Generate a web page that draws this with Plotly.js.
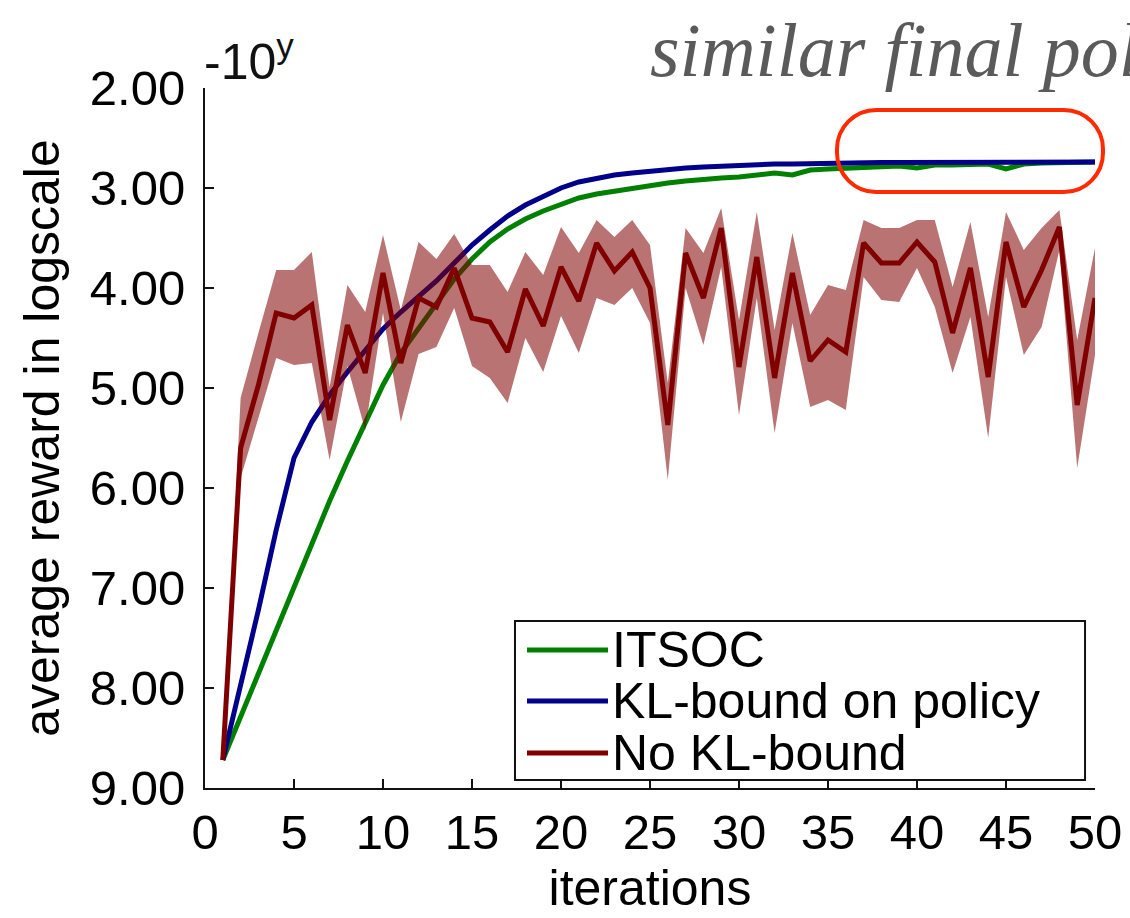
<!DOCTYPE html>
<html>
<head>
<meta charset="utf-8">
<script src="https://cdn.plot.ly/plotly-3.0.1.min.js"></script>
<style>
html,body{margin:0;padding:0;background:#ffffff;}
#chart{width:1130px;height:918px;}
</style>
</head>
<body>
<div id="chart"></div>
<script>
// ---------------- data ----------------
const iterations = [1,2,3,4,5,6,7,8,9,10,11,12,13,14,15,16,17,18,19,20,21,22,23,24,25,
  26,27,28,29,30,31,32,33,34,35,36,37,38,39,40,41,42,43,44,45,46,47,48,49,50];

const itsoc = [8.72,8.29,7.85,7.43,7.00,6.55,6.13,5.73,5.36,4.97,
  4.65,4.40,4.14,3.91,3.71,3.54,3.41,3.31,3.23,3.16,
  3.10,3.06,3.03,3.00,2.98,2.95,2.93,2.91,2.90,2.89,
  2.87,2.85,2.87,2.82,2.81,2.80,2.79,2.79,2.78,2.80,
  2.77,2.77,2.76,2.76,2.81,2.76,2.75,2.75,2.745,2.74];

const klPolicy = [8.72,7.99,7.22,6.42,5.70,5.34,5.07,4.84,4.62,4.41,
  4.24,4.09,3.93,3.75,3.57,3.42,3.28,3.17,3.08,3.00,
  2.94,2.90,2.87,2.85,2.83,2.81,2.80,2.79,2.78,2.77,
  2.77,2.76,2.76,2.755,2.75,2.75,2.75,2.745,2.745,2.745,
  2.745,2.74,2.74,2.74,2.74,2.74,2.74,2.74,2.74,2.74];

const noKlMean = [8.72,5.60,4.97,4.25,4.30,4.17,5.32,4.37,4.85,3.85,
  4.75,4.10,4.19,3.80,4.30,4.34,4.64,4.01,4.38,3.79,
  4.13,3.55,3.83,3.64,4.00,5.37,3.65,4.10,3.40,4.79,
  3.69,4.90,3.85,4.73,4.52,4.64,3.55,3.75,3.75,3.54,
  3.74,4.45,3.80,4.89,3.54,4.19,3.82,3.39,5.17,4.10];

const noKlUpper = [8.72,5.10,4.45,3.82,3.82,3.64,4.99,3.97,4.24,3.47,
  4.22,3.54,3.71,3.46,3.77,3.77,4.04,3.64,3.87,3.39,
  3.65,3.32,3.49,3.32,3.57,4.95,3.40,3.65,3.20,4.32,
  3.24,4.42,3.45,4.27,3.97,4.02,3.32,3.40,3.40,3.32,
  3.32,3.99,3.34,4.29,3.24,3.62,3.40,3.22,4.52,3.60];

const noKlLower = [8.72,5.90,5.30,4.70,4.77,4.75,5.72,4.78,5.42,4.25,
  5.34,4.66,4.59,4.20,4.78,4.90,5.15,4.50,4.84,4.28,
  4.65,4.10,4.17,4.00,4.35,5.92,4.00,4.57,3.79,5.27,
  4.10,5.45,4.35,5.19,5.12,5.22,3.89,4.12,4.14,3.80,
  4.19,4.85,4.29,5.50,3.89,4.67,4.39,3.62,5.80,4.67];

const xTickVals = [0,5,10,15,20,25,30,35,40,45,50];
const yTickVals = [2,3,4,5,6,7,8,9];
const yTickText = ['2.00','3.00','4.00','5.00','6.00','7.00','8.00','9.00'];
const seriesNames = ['ITSOC','KL-bound on policy','No KL-bound'];
const xTitle = 'iterations';
const yTitle = 'average reward in logscale';
const scaleLabel = '-10<sup>y</sup>';
const calloutText = 'similar final policies';

// ---------------- styling ----------------
const GREEN = '#008000';
const BLUE = '#00008b';
const RED = '#800000';
const BAND = 'rgba(128,0,0,0.55)';
const FONT = '"Liberation Sans", Arial, Helvetica, sans-serif';
const LW = 5;

const bandX = iterations.concat(iterations.slice().reverse());
const bandY = noKlUpper.concat(noKlLower.slice().reverse());

const traces = [
  {x: iterations, y: itsoc, type: 'scatter', mode: 'lines', name: seriesNames[0],
   line: {color: GREEN, width: LW}, showlegend: false},
  {x: iterations, y: klPolicy, type: 'scatter', mode: 'lines', name: seriesNames[1],
   line: {color: BLUE, width: LW}, showlegend: false},
  {x: bandX, y: bandY, type: 'scatter', mode: 'lines', fill: 'toself',
   fillcolor: BAND, line: {width: 0, color: 'rgba(0,0,0,0)'}, showlegend: false, hoverinfo: 'skip'},
  {x: iterations, y: noKlMean, type: 'scatter', mode: 'lines', name: seriesNames[2],
   line: {color: RED, width: LW}, showlegend: false}
];

// rounded callout rectangle (paper coords)
function roundedRect(x0, x1, y0, y1, rx, ry) {
  const k = 0.5523;
  return 'M ' + (x0 + rx) + ',' + y1 +
    ' L ' + (x1 - rx) + ',' + y1 +
    ' C ' + (x1 - rx + k * rx) + ',' + y1 + ' ' + x1 + ',' + (y1 - ry + k * ry) + ' ' + x1 + ',' + (y1 - ry) +
    ' L ' + x1 + ',' + (y0 + ry) +
    ' C ' + x1 + ',' + (y0 + ry - k * ry) + ' ' + (x1 - rx + k * rx) + ',' + y0 + ' ' + (x1 - rx) + ',' + y0 +
    ' L ' + (x0 + rx) + ',' + y0 +
    ' C ' + (x0 + rx - k * rx) + ',' + y0 + ' ' + x0 + ',' + (y0 + ry - k * ry) + ' ' + x0 + ',' + (y0 + ry) +
    ' L ' + x0 + ',' + (y1 - ry) +
    ' C ' + x0 + ',' + (y1 - ry + k * ry) + ' ' + (x0 + rx - k * rx) + ',' + y1 + ' ' + (x0 + rx) + ',' + y1 + ' Z';
}

// manual legend geometry (paper coords)
const legBox = {x0: 0.3483, x1: 0.9888, y0: 0.0114, y1: 0.2386};
const legLineX = [0.3618, 0.4528];
const legTextX = 0.4550;
const legRowY = [0.1971, 0.1243, 0.0500];
const legColors = [GREEN, BLUE, RED];

const shapes = [
  {type: 'path', xref: 'paper', yref: 'paper',
   path: roundedRect(0.7101, 1.0090, 0.8514, 0.9686, 0.0440, 0.0560),
   line: {color: '#ff2a00', width: 4}, fillcolor: 'rgba(0,0,0,0)'},
  {type: 'rect', xref: 'paper', yref: 'paper', x0: legBox.x0, x1: legBox.x1, y0: legBox.y0, y1: legBox.y1,
   line: {color: '#111111', width: 2}, fillcolor: '#ffffff', layer: 'above'}
];
const annotations = [
  {xref: 'paper', yref: 'paper', x: -0.003, y: 0.995, xanchor: 'left', yanchor: 'bottom',
   text: scaleLabel, showarrow: false, font: {family: FONT, size: 50, color: '#111111'}},
  {xref: 'paper', yref: 'paper', x: 0.498, y: 0.992, xanchor: 'left', yanchor: 'bottom',
   text: calloutText, showarrow: false,
   font: {family: '"Liberation Serif", "Times New Roman", serif', size: 76, color: '#5a5a5a', style: 'italic'}}
];
for (let i = 0; i < seriesNames.length; i++) {
  shapes.push({type: 'line', xref: 'paper', yref: 'paper', x0: legLineX[0], x1: legLineX[1],
    y0: legRowY[i], y1: legRowY[i], line: {color: legColors[i], width: LW}, layer: 'above'});
  annotations.push({xref: 'paper', yref: 'paper', x: legTextX, y: legRowY[i], xanchor: 'left', yanchor: 'middle',
    text: seriesNames[i], showarrow: false, font: {family: FONT, size: 50, color: '#000000'}});
}

const layout = {
  width: 1130, height: 918,
  margin: {l: 205, r: 35, t: 88, b: 130, pad: 0},
  paper_bgcolor: '#ffffff', plot_bgcolor: '#ffffff',
  font: {family: FONT, size: 49, color: '#000000'},
  showlegend: false,
  xaxis: {
    range: [0, 50], tickvals: xTickVals, ticks: 'inside', ticklen: 9, tickwidth: 2, tickcolor: '#111111',
    showline: true, linecolor: '#111111', linewidth: 2, showgrid: false, zeroline: false,
    tickfont: {family: FONT, size: 49, color: '#000000'},
    title: {text: xTitle, font: {family: FONT, size: 50, color: '#000000'}, standoff: 12}
  },
  yaxis: {
    range: [9, 2], tickvals: yTickVals, ticktext: yTickText, ticks: 'inside', ticklen: 9, tickwidth: 2,
    tickcolor: '#111111', showline: true, linecolor: '#111111', linewidth: 2, showgrid: false, zeroline: false,
    tickfont: {family: FONT, size: 49, color: '#000000'}, ticklabelstandoff: 8,
    title: {text: yTitle, font: {family: FONT, size: 50, color: '#000000'}, standoff: 14}
  },
  shapes: shapes,
  annotations: annotations
};

Plotly.newPlot('chart', traces, layout, {displayModeBar: false, staticPlot: true});
</script>
</body>
</html>
